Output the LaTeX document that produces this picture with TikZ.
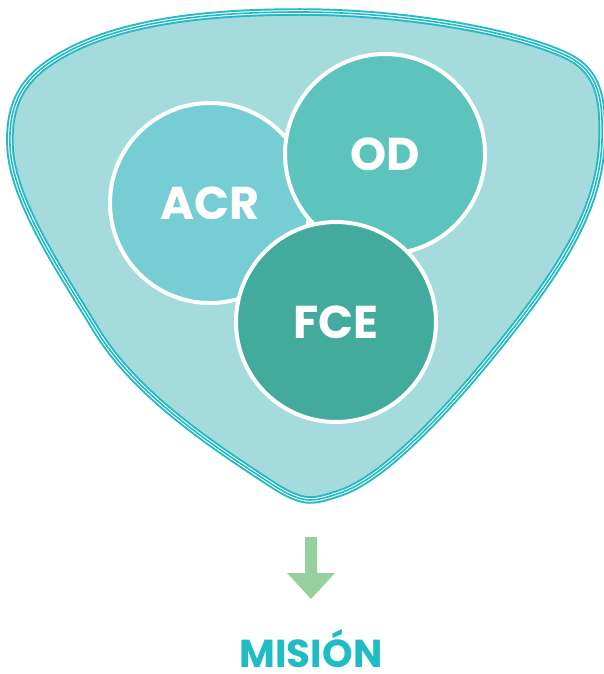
\documentclass[tikz,border=0pt]{standalone}
\usepackage{fontspec}
\setmainfont{Poppins}
\definecolor{shieldfill}{HTML}{A5DBDD}
\definecolor{shieldline}{HTML}{22BBC5}
\definecolor{acrc}{HTML}{76CDD3}
\definecolor{odc}{HTML}{5DC4BD}
\definecolor{fcec}{HTML}{43AB9E}
\definecolor{arrowc}{HTML}{96CFA0}
\definecolor{misionc}{HTML}{1FBCC6}
\tikzset{
  bubble/.style={circle, draw=white, line width=4pt, minimum size=200pt, inner sep=0pt,
    text=white, font=\bfseries\fontsize{46}{50}\selectfont},
}
\begin{document}
\begin{tikzpicture}[x=1pt,y=-1pt]
\useasboundingbox (0,0) rectangle (604,674);
\def\shieldpath{(10,145)
 .. controls (8,95) and (30,70) .. (75,48)
 .. controls (140,17) and (230,12) .. (300,12)
 .. controls (400,12) and (510,30) .. (565,55)
 .. controls (600,71) and (603,100) .. (602,140)
 .. controls (600,210) and (560,270) .. (500,345)
 .. controls (440,420) and (380,480) .. (340,493)
 .. controls (325,498) and (318,500) .. (310,500)
 .. controls (300,500) and (288,495) .. (270,483)
 .. controls (215,447) and (135,395) .. (95,328)
 .. controls (65,278) and (11,200) .. (10,145) -- cycle}
\fill[shieldfill] \shieldpath;
\draw[shieldline, line width=7.5pt] \shieldpath;
\draw[white, line width=3.6pt] \shieldpath;
\draw[shieldline, line width=1.6pt] \shieldpath;
\node[bubble, fill=acrc] (acr) at (210,203) {ACR};
\node[bubble, fill=odc] (od) at (385,154) {OD};
\node[bubble, fill=fcec] (fce) at (336,322) {FCE};
\fill[arrowc] (305,537) -- (317,537) -- (317,573) -- (335,573) -- (311,599) -- (287,573) -- (305,573) -- cycle;
\node[text=misionc, font=\bfseries\fontsize{39}{42}\selectfont, anchor=base, inner sep=0pt] (mision) at (311,667) {MISIÓN};
\end{tikzpicture}
\end{document}
